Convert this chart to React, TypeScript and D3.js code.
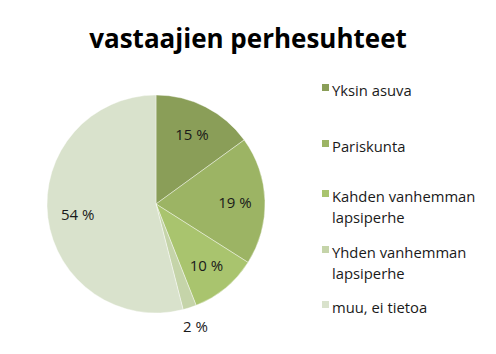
import React from 'react';
import * as d3 from 'd3';

const categories = ['Yksin asuva', 'Pariskunta', 'Kahden vanhemman lapsiperhe', 'Yhden vanhemman lapsiperhe', 'muu, ei tietoa'];
const values = [15, 19, 10, 2, 54];
const valueLabels = ['15 %', '19 %', '10 %', '2 %', '54 %'];
const colors = ['#8a9e58', '#9cb464', '#a9c46e', '#c5d4a9', '#d9e2cc'];
const legendLines = [['Yksin asuva'], ['Pariskunta'], ['Kahden vanhemman', 'lapsiperhe'], ['Yhden vanhemman', 'lapsiperhe'], ['muu, ei tietoa']];

const W = 496;
const H = 354;
const font = "'Open Sans', 'DejaVu Sans', sans-serif";

const App = () => {
  const cx = 156;
  const cy = 204;
  const radius = 109;

  const pie = d3.pie<number>().sort(null).value(d => d);
  const arcs = pie(values);
  const arc = d3.arc<d3.PieArcDatum<number>>().innerRadius(0).outerRadius(radius);
  const labelArc = d3.arc<d3.PieArcDatum<number>>().innerRadius(79).outerRadius(79);
  const outerLabelArc = d3.arc<d3.PieArcDatum<number>>().innerRadius(128).outerRadius(128);

  // legend rows (y of first text line)
  const rowY = [90, 146, 196, 252, 307];

  return (
    <svg width={W} height={H} style={{ position: 'absolute', left: 0, top: 0, background: '#fff' }}>
      <rect width={W} height={H} fill="#fff" />
      <text x={248} y={38} textAnchor="middle" dominantBaseline="central"
        style={{ fontFamily: font, fontWeight: 700, fontSize: 26, fill: '#000' }}>
        vastaajien perhesuhteet
      </text>
      <g transform={`translate(${cx},${cy})`}>
        {arcs.map((a, i) => (
          <path key={i} d={arc(a) || ''} fill={colors[i]} stroke="#fff" strokeWidth={0.4} />
        ))}
        {arcs.map((a, i) => {
          const [x, y] = a.data < 5 ? outerLabelArc.centroid(a) : labelArc.centroid(a);
          return (
            <text key={i} x={x} y={y} textAnchor="middle" dominantBaseline="central"
              style={{ fontFamily: font, fontSize: 15, fill: '#1a1a1a' }}>
              {valueLabels[i]}
            </text>
          );
        })}
      </g>
      <g>
        {categories.map((c, i) => {
          const y0 = rowY[i];
          return (
            <g key={c}>
              <rect x={322} y={y0 - 6} width={7} height={7} fill={colors[i]} />
              {legendLines[i].map((line, j) => (
                <text key={j} x={332} y={y0 + j * 21} dominantBaseline="central"
                  style={{ fontFamily: font, fontSize: 14.8, fill: '#1a1a1a' }}>
                  {line}
                </text>
              ))}
            </g>
          );
        })}
      </g>
    </svg>
  );
};

export default App;
